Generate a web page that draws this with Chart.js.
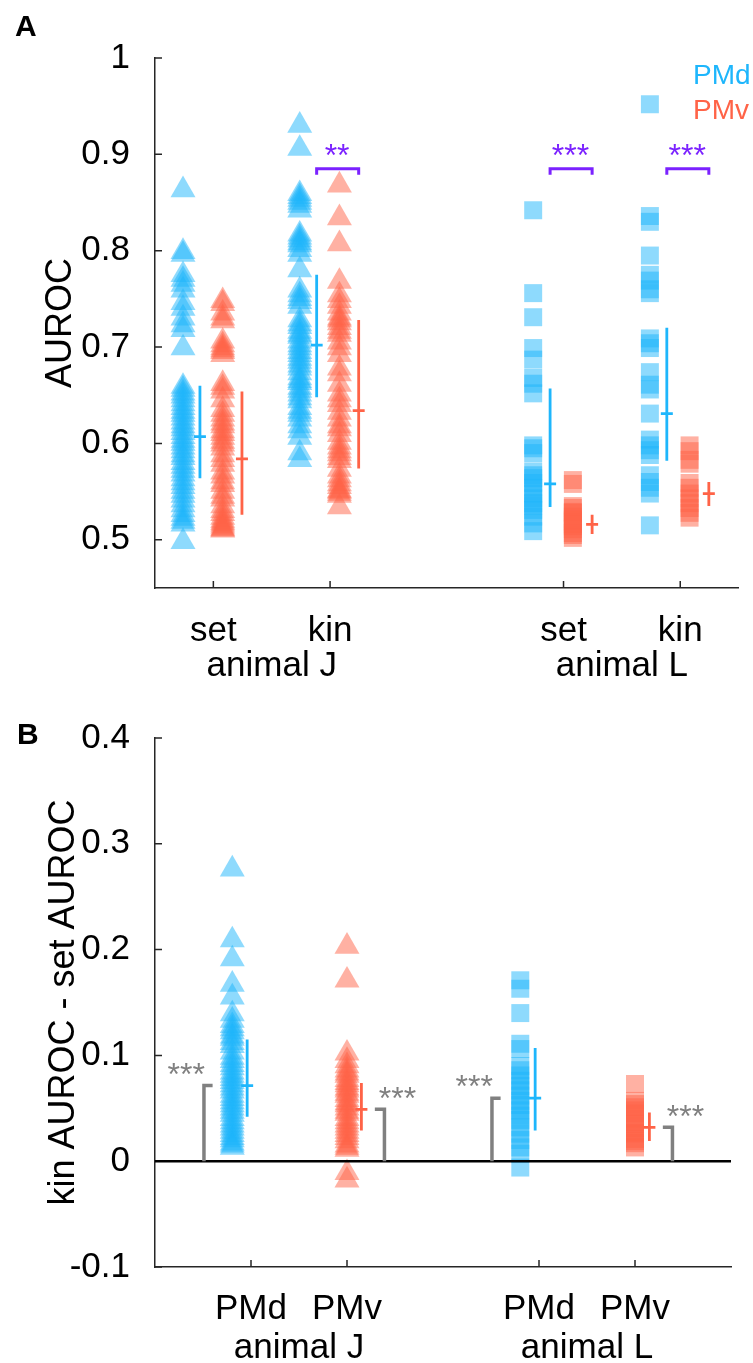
<!DOCTYPE html>
<html>
<head>
<meta charset="utf-8">
<script src="https://cdn.jsdelivr.net/npm/chart.js@4.4.1/dist/chart.umd.min.js"></script>
<style>
  html, body { margin: 0; padding: 0; background: #fff; }
  canvas { display: block; }
</style>
</head>
<body>
<canvas id="chartA" width="753" height="700"></canvas>
<canvas id="chartB" width="753" height="663"></canvas>
<script>
// ============================================
//  AUROC of PMd / PMv neurons, animals J and L
//  values
// ============================================

// ---- categories / tick labels ----
const groups      = ['animal J', 'animal L'];
const seriesNames = ['PMd', 'PMv'];
const xTicksA     = [1, 2, 4, 5];
const xLabelsA    = ['set', 'kin', 'set', 'kin'];
const yTicksA     = [0.5, 0.6, 0.7, 0.8, 0.9, 1];
const yLabelsA    = ['0.5', '0.6', '0.7', '0.8', '0.9', '1'];
const xTicksB     = [1, 2, 4, 5];
const xLabelsB    = ['PMd', 'PMv', 'PMd', 'PMv'];
const yTicksB     = [-0.1, 0, 0.1, 0.2, 0.3, 0.4];
const yLabelsB    = ['-0.1', '0', '0.1', '0.2', '0.3', '0.4'];

// ---- Panel A: AUROC per neuron ----
const aJsetPMd = [0.863, 0.799, 0.796, 0.775, 0.770, 0.765, 0.759, 0.746, 0.740, 0.730, 0.723, 0.718, 0.699,
  0.659, 0.656, 0.652, 0.649, 0.645, 0.641, 0.637, 0.633, 0.630, 0.626, 0.622, 0.618, 0.615, 0.611, 0.607,
  0.603, 0.600, 0.596, 0.592, 0.588, 0.585, 0.580, 0.576, 0.572, 0.568, 0.563, 0.559, 0.555, 0.550, 0.546,
  0.541, 0.536, 0.531, 0.526, 0.522, 0.519, 0.516, 0.498];
const aJsetPMv = [0.748, 0.745, 0.735, 0.730, 0.727, 0.706, 0.702, 0.699, 0.697, 0.695, 0.692, 0.662, 0.658,
  0.654, 0.645, 0.635, 0.630, 0.625, 0.621, 0.618, 0.613, 0.610, 0.606, 0.602, 0.599, 0.595, 0.588, 0.583,
  0.578, 0.570, 0.566, 0.560, 0.557, 0.550, 0.545, 0.542, 0.535, 0.530, 0.527, 0.523, 0.520, 0.518, 0.516,
  0.514, 0.512, 0.511, 0.510];
const aJkinPMd = [0.930, 0.906, 0.859, 0.856, 0.853, 0.850, 0.847, 0.842, 0.817, 0.814, 0.811, 0.808, 0.806,
  0.801, 0.796, 0.780, 0.759, 0.754, 0.750, 0.747, 0.742, 0.728, 0.724, 0.721, 0.716, 0.713, 0.711, 0.706,
  0.702, 0.699, 0.695, 0.692, 0.688, 0.685, 0.681, 0.678, 0.673, 0.668, 0.665, 0.663, 0.658, 0.655, 0.651,
  0.647, 0.644, 0.637, 0.633, 0.630, 0.625, 0.618, 0.613, 0.606, 0.590, 0.583];
const aJkinPMv = [0.868, 0.834, 0.807, 0.768, 0.754, 0.748, 0.742, 0.735, 0.730, 0.728, 0.725, 0.720, 0.716,
  0.713, 0.705, 0.699, 0.692, 0.678, 0.672, 0.661, 0.651, 0.645, 0.640, 0.632, 0.625, 0.618, 0.615, 0.609,
  0.601, 0.596, 0.592, 0.589, 0.585, 0.582, 0.573, 0.566, 0.562, 0.558, 0.555, 0.551, 0.550, 0.548, 0.546, 0.534];
const aLsetPMd = [0.842, 0.756, 0.731, 0.699, 0.687, 0.668, 0.662, 0.652, 0.598, 0.595, 0.590, 0.571, 0.567,
  0.564, 0.559, 0.554, 0.548, 0.543, 0.538, 0.535, 0.531, 0.524, 0.517, 0.509];
const aLsetPMv = [0.562, 0.558, 0.535, 0.533, 0.529, 0.528, 0.524, 0.521, 0.519, 0.516, 0.514, 0.511, 0.507,
  0.505, 0.502];
const aLkinPMd = [0.952, 0.836, 0.830, 0.795, 0.775, 0.769, 0.760, 0.756, 0.709, 0.704, 0.699, 0.674, 0.661,
  0.656, 0.631, 0.604, 0.598, 0.593, 0.588, 0.567, 0.560, 0.554, 0.548, 0.515];
const aLkinPMv = [0.598, 0.592, 0.583, 0.579, 0.559, 0.554, 0.548, 0.543, 0.538, 0.533, 0.528, 0.523];

// error bars (low / centre / high) per category 1,2,4,5
const aPMdLo  = [0.564, 0.648, 0.534, 0.582];
const aPMdMid = [0.607, 0.702, 0.558, 0.631];
const aPMdHi  = [0.660, 0.775, 0.657, 0.720];
const aPMvLo  = [0.526, 0.574, 0.506, 0.535];
const aPMvMid = [0.584, 0.634, 0.516, 0.548];
const aPMvHi  = [0.654, 0.728, 0.526, 0.560];

// significance PMd vs PMv
const aSigCats   = [2, 4, 5];
const aSigLabels = ['**', '***', '***'];

// ---- Panel B: kin AUROC - set AUROC ----
const bJPMd = [0.276, 0.209, 0.191, 0.167, 0.155, 0.139, 0.133, 0.128, 0.125, 0.122, 0.118, 0.116, 0.112,
  0.109, 0.103, 0.098, 0.095, 0.091, 0.088, 0.084, 0.081, 0.078, 0.075, 0.072, 0.069, 0.066, 0.062, 0.059,
  0.056, 0.053, 0.050, 0.047, 0.044, 0.040, 0.037, 0.034, 0.031, 0.028, 0.025, 0.022, 0.020, 0.017, 0.015, 0.013];
const bJPMv = [0.203, 0.171, 0.102, 0.095, 0.090, 0.086, 0.083, 0.081, 0.077, 0.074, 0.072, 0.069, 0.067,
  0.064, 0.062, 0.058, 0.055, 0.053, 0.050, 0.047, 0.045, 0.040, 0.037, 0.034, 0.031, 0.028, 0.025, 0.022,
  0.019, 0.015, 0.013, 0.011, -0.011, -0.018];
const bLPMd = [0.171, 0.163, 0.140, 0.111, 0.106, 0.090, 0.086, 0.081, 0.076, 0.071, 0.067,
  0.062, 0.057, 0.053, 0.048, 0.043, 0.039, 0.032, 0.026, 0.020, 0.013, 0.007, -0.006];
const bLPMv = [0.073, 0.057, 0.054, 0.051, 0.048, 0.045, 0.040, 0.037, 0.035, 0.031, 0.027, 0.026, 0.021,
  0.019, 0.017, 0.013];

// error bars: PMd at categories 1,4 ; PMv at 2,5
const bPMdLo  = [0.042, 0.029];
const bPMdMid = [0.0715, 0.0596];
const bPMdHi  = [0.115, 0.107];
const bPMvLo  = [0.029, 0.019];
const bPMvMid = [0.049, 0.032];
const bPMvHi  = [0.074, 0.046];
const bSigLabels = ['***', '***', '***', '***'];

// ---- Colores / estilos ----
const BLUE    = 'rgb(30, 182, 252)';
const BLUE_A  = 'rgba(30, 182, 252, 0.5)';
const RED     = 'rgb(255, 99, 71)';
const RED_A   = 'rgba(255, 99, 71, 0.5)';
const PURPLE  = '#7b22ff';
const GRAY    = '#808080';
const AXIS    = '#262626';
const FONT    = '"Liberation Sans", Arial, Helvetica, sans-serif';
const TICK_PX = 35;
const TITLE_PX = 36;
const TRI_R   = 14.4;
const SQ_R    = 12.7;

const pts = (vals, x) => vals.map(v => ({ x: x, y: v }));

function scatterSet(vals, x, color, style) {
    return {
        data: pts(vals, x),
        pointStyle: style,
        pointRadius: style === 'triangle' ? TRI_R : SQ_R,
        backgroundColor: color,
        borderWidth: 0,
        showLine: false,
        clip: false
    };
}

function baseScales(xMin, xMax, xTicks, xLabels, yMin, yMax, yTicks, yLabels, xH, xPad) {
    return {
        x: {
            type: 'linear', min: xMin, max: xMax,
            afterBuildTicks: s => { s.ticks = xTicks.map(v => ({ value: v })); },
            afterFit: s => { s.height = xH; },
            ticks: {
                callback: (v, i) => xLabels[i],
                font: { family: FONT, size: TICK_PX }, color: '#000',
                padding: xPad, maxRotation: 0, autoSkip: false
            },
            grid: { display: false },
            border: { display: true, color: AXIS, width: 1.5 }
        },
        y: {
            type: 'linear', min: yMin, max: yMax,
            afterBuildTicks: s => { s.ticks = yTicks.map(v => ({ value: v })); },
            afterFit: s => { s.width = 155; },
            ticks: {
                callback: (v, i) => yLabels[i],
                font: { family: FONT, size: TICK_PX }, color: '#000', padding: 17
            },
            grid: { display: false },
            border: { display: true, color: AXIS, width: 1.5 }
        }
    };
}

// ---- helpers de dibujo ----
function inwardTicks(chart, xTicks, yTicks) {
    const { ctx, chartArea: a, scales: { x, y } } = chart;
    ctx.strokeStyle = AXIS; ctx.lineWidth = 1.5;
    ctx.beginPath();
    yTicks.forEach(v => { const p = y.getPixelForValue(v); ctx.moveTo(a.left, p); ctx.lineTo(a.left + 7, p); });
    xTicks.forEach(v => { const p = x.getPixelForValue(v); ctx.moveTo(p, a.bottom); ctx.lineTo(p, a.bottom - 7); });
    ctx.stroke();
}

function errorBars(chart, xs, lo, mid, hi, color) {
    const { ctx, scales: { x, y } } = chart;
    ctx.strokeStyle = color; ctx.lineWidth = 2.8;
    ctx.beginPath();
    xs.forEach((xv, i) => {
        const px = x.getPixelForValue(xv);
        ctx.moveTo(px, y.getPixelForValue(lo[i]));
        ctx.lineTo(px, y.getPixelForValue(hi[i]));
        const pm = y.getPixelForValue(mid[i]);
        ctx.moveTo(px - 6, pm); ctx.lineTo(px + 6, pm);
    });
    ctx.stroke();
}

function text(ctx, str, px, py, color, size, align, rot, bold, base) {
    ctx.save();
    ctx.translate(px, py);
    if (rot) ctx.rotate(rot);
    ctx.fillStyle = color;
    ctx.font = (bold ? 'bold ' : '') + size + 'px ' + FONT;
    ctx.textAlign = align || 'center';
    ctx.textBaseline = base || 'middle';
    ctx.fillText(str, 0, 0);
    ctx.restore();
}

// asterisks sit high in the em box: draw on the baseline so the stars centre on py
function stars(ctx, str, px, py, color, align) {
    ctx.save();
    ctx.fillStyle = color;
    ctx.font = '32px ' + FONT;
    ctx.textAlign = align;
    ctx.textBaseline = 'alphabetic';
    ctx.fillText(str, px, py + 18);
    ctx.restore();
}

// ============================================
// A. AUROC
// ============================================
const offA = { pmd: -0.26, pmdErr: -0.115, pmv: 0.08, pmvErr: 0.245 };

const decoA = {
    id: 'decoA',
    afterDraw(chart) {
        const { ctx, chartArea: a, scales: { x, y } } = chart;
        inwardTicks(chart, xTicksA, yTicksA);
        errorBars(chart, xTicksA.map(c => c + offA.pmdErr), aPMdLo, aPMdMid, aPMdHi, BLUE);
        errorBars(chart, xTicksA.map(c => c + offA.pmvErr), aPMvLo, aPMvMid, aPMvHi, RED);

        // brackets PMd vs PMv
        ctx.strokeStyle = PURPLE; ctx.lineWidth = 3;
        aSigCats.forEach((c, i) => {
            const x0 = x.getPixelForValue(c + offA.pmdErr);
            const x1 = x.getPixelForValue(c + offA.pmvErr);
            const yb = y.getPixelForValue(0.885);
            ctx.beginPath();
            ctx.moveTo(x0, yb + 6); ctx.lineTo(x0, yb); ctx.lineTo(x1, yb); ctx.lineTo(x1, yb + 6);
            ctx.stroke();
            stars(ctx, aSigLabels[i], x.getPixelForValue(c + 0.06), y.getPixelForValue(0.907), PURPLE, 'center');
        });

        // legend text
        text(ctx, seriesNames[0], 693, 76, BLUE, 28, 'left');
        text(ctx, seriesNames[1], 693, 111, RED, 28, 'left');

        // group labels, axis title, panel tag
        groups.forEach((g, i) => text(ctx, g, x.getPixelForValue(xTicksA[2 * i] + 0.5), a.bottom + 88, '#000',
            TICK_PX, 'center', 0, false, 'alphabetic'));
        text(ctx, 'AUROC', 61, (a.top + a.bottom) / 2, '#000', TITLE_PX, 'center', -Math.PI / 2);
        text(ctx, 'A', 15, 36, '#000', 30, 'left', 0, true, 'alphabetic');
    }
};

new Chart(document.getElementById('chartA'), {
    type: 'scatter',
    data: {
        datasets: [
            scatterSet(aJsetPMd, 1 + offA.pmd, BLUE_A, 'triangle'),
            scatterSet(aJsetPMv, 1 + offA.pmv, RED_A, 'triangle'),
            scatterSet(aJkinPMd, 2 + offA.pmd, BLUE_A, 'triangle'),
            scatterSet(aJkinPMv, 2 + offA.pmv, RED_A, 'triangle'),
            scatterSet(aLsetPMd, 4 + offA.pmd, BLUE_A, 'rect'),
            scatterSet(aLsetPMv, 4 + offA.pmv, RED_A, 'rect'),
            scatterSet(aLkinPMd, 5 + offA.pmd, BLUE_A, 'rect'),
            scatterSet(aLkinPMv, 5 + offA.pmv, RED_A, 'rect')
        ]
    },
    options: {
        responsive: false,
        animation: false,
        devicePixelRatio: 1,
        events: [],
        layout: { padding: { top: 58, right: 14, left: 0, bottom: 0 } },
        plugins: { legend: { display: false }, tooltip: { enabled: false } },
        scales: baseScales(0.5, 5.5, xTicksA, xLabelsA, 0.45, 1, yTicksA, yLabelsA, 112, 14)
    },
    plugins: [decoA]
});

// ============================================
// B. kin AUROC - set AUROC
// ============================================
const offB = { pts: [-0.195, 0], err: [-0.04, 0.15] };

const decoB = {
    id: 'decoB',
    afterDraw(chart) {
        const { ctx, chartArea: a, scales: { x, y } } = chart;
        inwardTicks(chart, xTicksB, yTicksB);

        // zero line
        const y0 = y.getPixelForValue(0);
        ctx.strokeStyle = '#000'; ctx.lineWidth = 2.5;
        ctx.beginPath(); ctx.moveTo(a.left, y0); ctx.lineTo(a.right, y0); ctx.stroke();

        errorBars(chart, [1, 4].map(c => c + offB.err[0]), bPMdLo, bPMdMid, bPMdHi, BLUE);
        errorBars(chart, [2, 5].map(c => c + offB.err[1]), bPMvLo, bPMvMid, bPMvHi, RED);

        // brackets: difference vs zero
        ctx.strokeStyle = GRAY; ctx.lineWidth = 3.5;
        [1, 4].forEach((c, i) => {
            const xv = x.getPixelForValue(c - 0.49), xe = x.getPixelForValue(c - 0.40);
            const yt = y.getPixelForValue(bPMdMid[i]);
            ctx.beginPath(); ctx.moveTo(xv, y0); ctx.lineTo(xv, yt); ctx.lineTo(xe, yt); ctx.stroke();
            stars(ctx, bSigLabels[i * 2], xv + 1, yt - 19, GRAY, 'right');
        });
        [2, 5].forEach((c, i) => {
            const xs = x.getPixelForValue(c + 0.29), xv = x.getPixelForValue(c + 0.39);
            const yt = y.getPixelForValue(bPMvMid[i]);
            ctx.beginPath(); ctx.moveTo(xs, yt); ctx.lineTo(xv, yt); ctx.lineTo(xv, y0); ctx.stroke();
            stars(ctx, bSigLabels[i * 2 + 1], xs + 4, yt - 18, GRAY, 'left');
        });

        groups.forEach((g, i) => text(ctx, g, x.getPixelForValue(xTicksB[2 * i] + 0.5), a.bottom + 91, '#000',
            TICK_PX, 'center', 0, false, 'alphabetic'));
        text(ctx, 'kin AUROC - set AUROC', 64, (a.top + a.bottom) / 2, '#000', TITLE_PX, 'center', -Math.PI / 2);
        text(ctx, 'B', 17, 44, '#000', 30, 'left', 0, true, 'alphabetic');
    }
};

new Chart(document.getElementById('chartB'), {
    type: 'scatter',
    data: {
        datasets: [
            scatterSet(bJPMd, 1 + offB.pts[0], BLUE_A, 'triangle'),
            scatterSet(bJPMv, 2 + offB.pts[1], RED_A, 'triangle'),
            scatterSet(bLPMd, 4 + offB.pts[0], BLUE_A, 'rect'),
            scatterSet(bLPMv, 5 + offB.pts[1], RED_A, 'rect')
        ]
    },
    options: {
        responsive: false,
        animation: false,
        devicePixelRatio: 1,
        events: [],
        layout: { padding: { top: 36, right: 22, left: 0, bottom: 0 } },
        plugins: { legend: { display: false }, tooltip: { enabled: false } },
        scales: baseScales(0, 6, xTicksB, xLabelsB, -0.1, 0.4, yTicksB, yLabelsB, 96, 13)
    },
    plugins: [decoB]
});
</script>
</body>
</html>
